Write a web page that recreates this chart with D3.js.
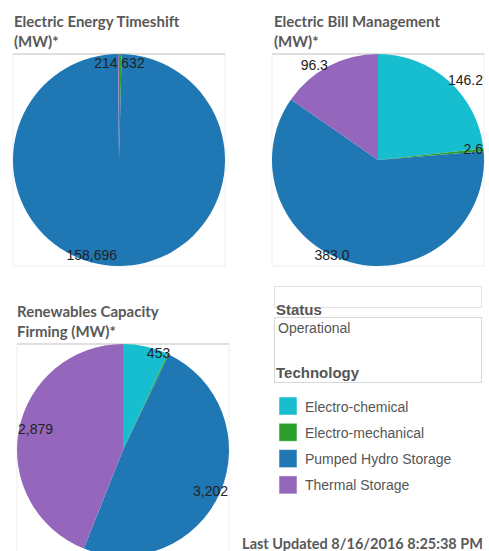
<html>
<head>
    <meta charset="utf-8">
    <style>
        body { margin: 0; background: #fff; }
        .title { font-family: Lato, sans-serif; font-weight: bold; font-size: 15px; fill: #595959; }
        .lbl { font-family: "Liberation Sans", Arial, sans-serif; font-size: 14px; fill: #222; }
        .panel { font-family: "Liberation Sans", Arial, sans-serif; fill: #555; }
    </style>
</head>
<body>
    <svg width="489" height="551"></svg>
    <script src="https://cdnjs.cloudflare.com/ajax/libs/d3/7.8.5/d3.min.js"></script>
    <script>
        // technologies, in slice order (clockwise from 12 o'clock)
        var categories = ["Electro-chemical", "Electro-mechanical", "Pumped Hydro Storage", "Thermal Storage"];
        var colors = ["#17becf", "#2ca02c", "#1f77b4", "#9467bd"];

        // MW per technology
        var timeshiftMW = [0, 632, 158696, 214];
        var billMgmtMW = [146.2, 2.6, 383.0, 96.3];
        var firmingMW = [453, 12, 3202, 2879];

        var titles = [
            ["Electric Energy Timeshift", "(MW)*"],
            ["Electric Bill Management", "(MW)*"],
            ["Renewables Capacity", "Firming (MW)*"]
        ];
        var statusList = ["Operational"];
        var updated = "Last Updated 8/16/2016 8:25:38 PM";

        var svg = d3.select("svg");
        var color = d3.scaleOrdinal().domain(categories).range(colors);

        var charts = [
            { title: titles[0], values: timeshiftMW, fmt: d3.format(",.0f"), x: 13, y: 54, tx: 14, ty: 27 },
            { title: titles[1], values: billMgmtMW, fmt: d3.format(".1f"), x: 272, y: 54, tx: 274, ty: 27 },
            { title: titles[2], values: firmingMW, fmt: d3.format(",.0f"), x: 17, y: 344, tx: 17, ty: 317 }
        ];

        var size = 212, radius = size / 2;
        var pie = d3.pie().sort(null).value(function (d) { return d.value; });
        var arc = d3.arc().innerRadius(0).outerRadius(radius);

        charts.forEach(function (c) {
            svg.append("text").attr("class", "title")
                .selectAll("tspan").data(c.title).enter().append("tspan")
                .attr("x", c.tx).attr("y", function (d, i) { return c.ty + i * 20; })
                .text(function (d) { return d; });

            var g = svg.append("g").attr("transform", "translate(" + c.x + "," + c.y + ")");
            g.append("rect").attr("width", size).attr("height", size)
                .attr("fill", "none").attr("stroke", "#eeeeee");
            g.append("line").attr("x2", size).attr("stroke", "#c8c8c8");

            var data = categories.map(function (k, i) { return { key: k, value: c.values[i] }; })
                .filter(function (d) { return d.value > 0; });
            var arcs = pie(data);
            var pg = g.append("g").attr("transform", "translate(" + radius + "," + radius + ")");
            pg.selectAll("path").data(arcs).enter().append("path")
                .attr("d", arc)
                .attr("fill", function (d) { return color(d.data.key); });

            // labels at slice edge, kept inside the box, overlapping ones dropped
            var placed = [];
            arcs.forEach(function (d) {
                var a = (d.startAngle + d.endAngle) / 2;
                var px = radius + radius * Math.sin(a);
                var py = radius - radius * Math.cos(a) + 4;
                var t = g.append("text").attr("class", "lbl").text(c.fmt(d.data.value));
                var w = t.node().getComputedTextLength();
                var x0 = Math.sin(a) >= 0 ? px + 1 : px - w - 1;
                x0 = Math.max(1, Math.min(size - 1 - w, x0));
                py = Math.max(14, Math.min(size - 6, py));
                var box = { x: x0, y: py - 11, w: w, h: 12 };
                var hit = placed.some(function (b) {
                    return box.x < b.x + b.w && b.x < box.x + box.w && box.y < b.y + b.h && b.y < box.y + box.h;
                });
                if (hit) { t.remove(); return; }
                placed.push(box);
                t.attr("x", x0).attr("y", py);
            });
        });

        // filter panel
        var panel = svg.append("g").attr("class", "panel");
        panel.append("rect").attr("x", 274.5).attr("y", 286.5).attr("width", 207).attr("height", 21)
            .attr("fill", "none").attr("stroke", "#e2e2e2");
        panel.append("rect").attr("x", 274.5).attr("y", 317.5).attr("width", 207).attr("height", 65)
            .attr("fill", "none").attr("stroke", "#d8d8d8");
        panel.append("text").attr("x", 276).attr("y", 315)
            .style("font-size", "15px").style("font-weight", "bold").text("Status");
        panel.selectAll(".status").data(statusList).enter().append("text")
            .attr("x", 278).attr("y", function (d, i) { return 333 + i * 16; })
            .style("font-size", "14px").text(function (d) { return d; });
        panel.append("text").attr("x", 276).attr("y", 378)
            .style("font-size", "15px").style("font-weight", "bold").text("Technology");

        var legend = panel.selectAll(".leg").data(categories).enter().append("g")
            .attr("transform", function (d, i) { return "translate(279," + (397 + i * 26.3) + ")"; });
        legend.append("rect").attr("width", 18).attr("height", 18)
            .attr("fill", function (d) { return color(d); })
            .attr("stroke", "#fff").attr("stroke-opacity", 0.5);
        legend.append("text").attr("x", 26).attr("y", 14.5)
            .style("font-size", "14px").text(function (d) { return d; });

        svg.append("text").attr("class", "title")
            .attr("x", 483).attr("y", 549).attr("text-anchor", "end")
            .style("font-size", "14.5px").text(updated);
    </script>
</body>
</html>
